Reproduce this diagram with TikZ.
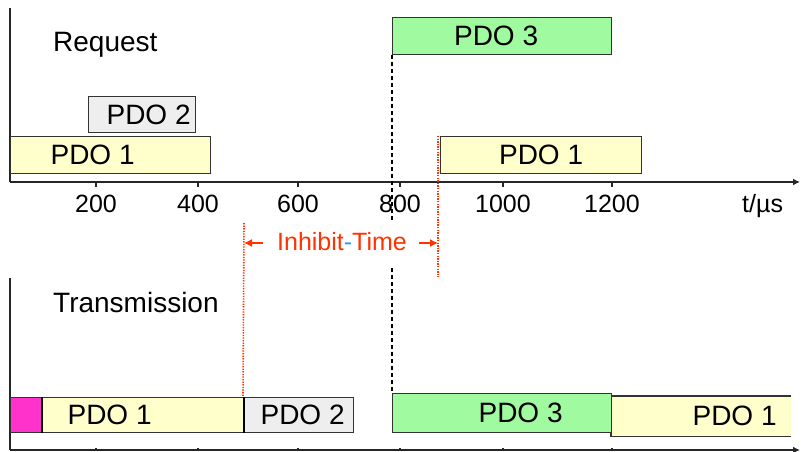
\documentclass[tikz,border=0pt]{standalone}
\usepackage{fontspec}
\setmainfont{Liberation Sans}
\usetikzlibrary{arrows.meta}
\definecolor{pdoyellow}{HTML}{FFFFCC}
\definecolor{pdogreen}{HTML}{A0FAA0}
\definecolor{pdogray}{HTML}{EEEEEE}
\definecolor{pdopink}{HTML}{FF33CC}
\definecolor{inhred}{HTML}{FF3300}
\definecolor{inhblue}{HTML}{3399FF}
\newcommand{\pdofont}{\fontsize{28}{32}\selectfont}
\newcommand{\tickfont}{\fontsize{25}{28}\selectfont}

\begin{document}
\begin{tikzpicture}[x=1pt,y=1pt,
  pdo/.style={draw=black!80,line width=1.2pt,inner sep=0pt,anchor=north west,font=\pdofont},
  axis/.style={line width=1.5pt,black!85},
  tick/.style={anchor=base,inner sep=0pt,font=\tickfont},
  sync/.style={line width=1.2pt,dash pattern=on 4pt off 3pt},
  inh/.style={line width=1.6pt,inhred,dash pattern=on 1.3pt off 1.3pt},
  inharrow/.style={line width=1.5pt,inhred,-{Latex[length=8pt,width=8pt]}}]

  \useasboundingbox (0,0) rectangle (801,-452);
  \newcommand\sh[1]{\hspace*{#1pt}}

  %% request
  \coordinate (rq0) at (10,-182);
  \draw[axis] (10,-8) -- (rq0);
  \draw[axis,-{Latex[length=7pt,width=7pt]}] (rq0) -- (800,-182);
  \node[anchor=base west,inner sep=0pt,font=\pdofont] (req) at (53,-52) {Request};
  \foreach \x/\t in {96/200,198/400,298/600,400/800,503/1000,612/1200}{
    \draw[axis] (\x,-182) -- (\x,-187);
    \node[tick] (t\t) at (\x,-212) {\t};
  }
  \node[tick,anchor=base west] (tunit) at (742,-212) {t/µs};

  \node[pdo,fill=pdogreen,minimum width=219pt,minimum height=37pt] (rqIII) at (392,-17) {PDO 3\sh{12}};
  \node[pdo,fill=pdogray,minimum width=107pt,minimum height=36pt] (rqII) at (88,-96) {\sh{13}PDO 2};
  \node[pdo,fill=pdoyellow,minimum width=200pt,minimum height=37pt] (rqI) at (10,-136) {PDO 1\sh{36}};
  \node[pdo,fill=pdoyellow,minimum width=201pt,minimum height=37pt] (rqIb) at (440,-136) {PDO 1};

  %% transmission
  \coordinate (tx0) at (10,-450);
  \draw[axis] (10,-278) -- (tx0);
  \draw[axis,-{Latex[length=7pt,width=7pt]}] (tx0) -- (800,-450);
  \foreach \x in {96,198,298,400,503,612}
    \draw[axis] (\x,-450) -- (\x,-448);
  \node[anchor=base west,inner sep=0pt,font=\pdofont] (trans) at (53,-312) {Transmission};

  \node[pdo,fill=pdopink,minimum width=31pt,minimum height=35pt] (txX) at (10,-397) {};
  \node[pdo,fill=pdoyellow,minimum width=202pt,minimum height=35pt] (txI) at (41,-397) {PDO 1\sh{66}};
  \node[pdo,fill=pdogray,minimum width=110pt,minimum height=35pt] (txII) at (243,-397) {\sh{8}PDO 2};
  \node[pdo,fill=pdoyellow,draw=none,minimum width=179pt,minimum height=39pt] (txIb) at (611,-396) {\sh{67}PDO 1};
  \draw[black!80,line width=1.2pt] (txIb.north east) -- (txIb.north west) -- (txIb.south west) -- (txIb.south east);
  \node[pdo,fill=pdogreen,minimum width=219pt,minimum height=39pt] (txIII) at (392,-393) {\sh{37}PDO 3};
  \draw[line width=2.5pt] (txX.north east) -- (txX.south east); % pink|PDO 1
  \draw[line width=2.5pt] (txI.north east) -- (txI.south east); % PDO 1|PDO 2

  %% sync line PDO 3
  \coordinate (syA) at (392,-220);
  \coordinate (syB) at (392,-268);
  \draw[sync] (rqIII.south west) -- (syA);
  \draw[sync] (syB) -- (txIII.north west);

  %% inhibit time
  \coordinate (inhLt) at (244,-223);
  \coordinate (inhL) at (244,-243);
  \coordinate (inhR) at (438,-243);
  \coordinate (inhRt) at (438,-136);
  \coordinate (inhRb) at (438,-277);
  \draw[inh] (inhLt) -- (txII.north west);
  \draw[inh] (inhRt) -- (inhRb);
  \node[anchor=base,inner sep=0pt,font=\tickfont,text=inhred] (inht) at (342,-250) {Inhibit\textcolor{inhblue}{-}Time};
  \draw[inharrow,shorten <=14pt] (inhL -| inht.west) -- (inhL);
  \draw[inharrow,shorten <=12pt] (inhR -| inht.east) -- (inhR);

\end{tikzpicture}
\end{document}
